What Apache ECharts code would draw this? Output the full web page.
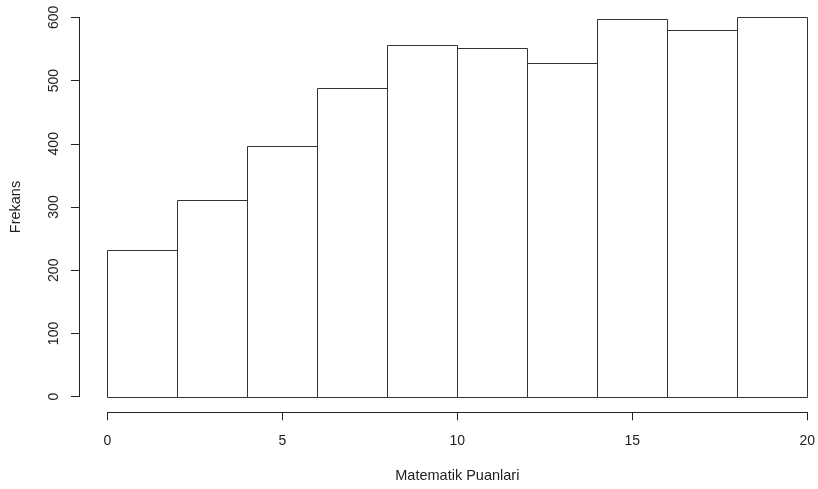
<!DOCTYPE html>
<html>
<head>
<meta charset="utf-8">
<script src="https://cdn.jsdelivr.net/npm/echarts@6/dist/echarts.min.js"></script>
<style>
  html, body { margin: 0; padding: 0; background: #fff; }
  #chart { width: 818px; height: 489px; }
</style>
</head>
<body>
<div id="chart"></div>
<script>
// Histogram of math scores: bins of width 2 over [0, 20]
const binStarts = [0, 2, 4, 6, 8, 10, 12, 14, 16, 18];
const binEnds   = [2, 4, 6, 8, 10, 12, 14, 16, 18, 20];
const counts    = [232, 311, 396, 488, 556, 551, 527, 598, 580, 600];
const xTicks = [0, 5, 10, 15, 20];
const yTicks = [0, 100, 200, 300, 400, 500, 600];

const ink = '#222';
const font = 'Liberation Sans, Arial, sans-serif';

const chart = echarts.init(document.getElementById('chart'), null, { renderer: 'canvas' });

chart.setOption({
  animation: false,
  backgroundColor: '#fff',
  grid: { left: 106.7, right: 7.3, top: 17.3, bottom: 92.3 },
  xAxis: {
    type: 'value',
    min: xTicks[0],
    max: xTicks[xTicks.length - 1],
    interval: 5,
    offset: 15.6,
    name: 'Matematik Puanlari',
    nameLocation: 'middle',
    nameGap: 56,
    nameTextStyle: { color: ink, fontSize: 14.5, fontFamily: font },
    splitLine: { show: false },
    axisLine: { show: true, onZero: false, lineStyle: { color: ink, width: 1 } },
    axisTick: { show: true, length: 8, lineStyle: { color: ink } },
    axisLabel: { color: ink, fontSize: 14, fontFamily: font, margin: 22 }
  },
  yAxis: {
    type: 'value',
    min: yTicks[0],
    max: yTicks[yTicks.length - 1],
    interval: 100,
    offset: 28.4,
    name: 'Frekans',
    nameLocation: 'middle',
    nameRotate: 90,
    nameGap: 56,
    nameTextStyle: { color: ink, fontSize: 14.5, fontFamily: font },
    splitLine: { show: false },
    axisLine: { show: true, onZero: false, lineStyle: { color: ink, width: 1 } },
    axisTick: { show: true, length: 8, lineStyle: { color: ink } },
    axisLabel: { color: ink, fontSize: 14, fontFamily: font, rotate: 90, margin: 18 }
  },
  series: [{
    type: 'custom',
    clip: false,
    data: counts.map((c, i) => [binStarts[i], binEnds[i], c]),
    renderItem: function (params, api) {
      const p0 = api.coord([api.value(0), 0]);
      const p1 = api.coord([api.value(1), api.value(2)]);
      return {
        type: 'rect',
        shape: {
          x: Math.round(p0[0]) + 0.5,
          y: Math.round(p1[1]) + 0.5,
          width: Math.round(p1[0]) - Math.round(p0[0]),
          height: Math.round(p0[1]) - Math.round(p1[1])
        },
        style: { fill: '#fff', stroke: '#333', lineWidth: 1 }
      };
    }
  }]
});
</script>
</body>
</html>
